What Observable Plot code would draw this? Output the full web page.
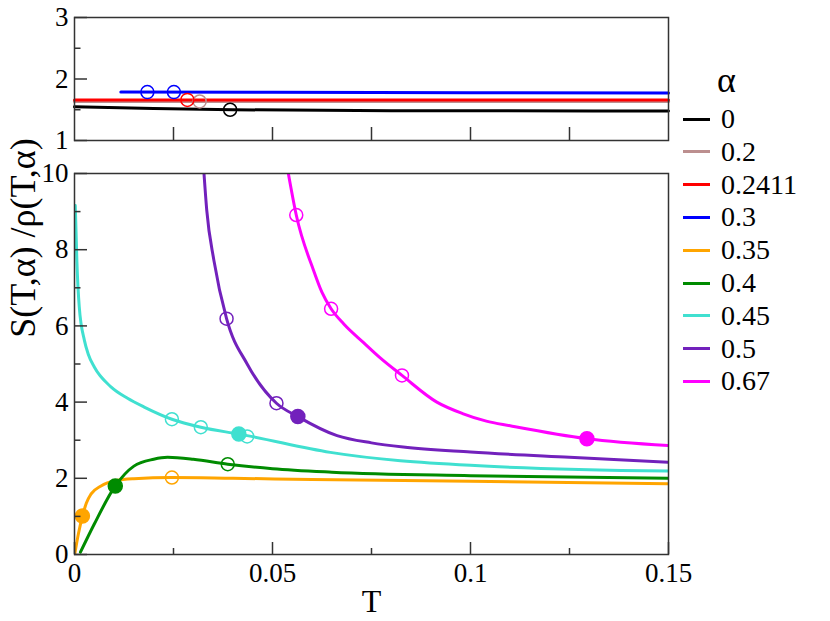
<!DOCTYPE html>
<html><head><meta charset="utf-8">
<script src="https://cdn.jsdelivr.net/npm/d3@7"></script>
<script src="https://cdn.jsdelivr.net/npm/@observablehq/plot@0.6"></script>
<style>
body{margin:0;background:#fff;}
#fig{position:relative;width:830px;height:621px;font-family:"Liberation Serif","Times New Roman","DejaVu Serif",serif;overflow:hidden;background:#fff;}
#top,#bottom{position:absolute;left:0;}
#top{top:0px} #bottom{top:140px}
#ylabel{position:absolute;left:23px;top:238px;transform:translate(-50%,-50%) rotate(-90deg);font-size:36px;line-height:36px;white-space:nowrap;color:#000;}
#legend{position:absolute;left:0;top:0;}
.lg-line{position:absolute;height:3px;width:27px;}
.lg-text{position:absolute;font-size:28px;line-height:28px;white-space:nowrap;color:#000;}
</style></head><body>
<div id="fig"><div id="top"></div><div id="bottom"></div><div id="ylabel">S(T,α) /ρ(T,α)</div><div id="legend"></div></div>
<script>
// ---------- data ----------
const alphas = ["0","0.2","0.2411","0.3","0.35","0.4","0.45","0.5","0.67"];
const colors = ["#000000","#bc8f8f","#ff0000","#0000ff","#ffa500","#008b00","#40e0d0","#7221bc","#ff00ff"];

// top panel (alpha = 0, 0.2, 0.2411, 0.3)
const T_0    = [0, 0.02, 0.04, 0.08, 0.15];
const S_0    = [1.547, 1.52, 1.50, 1.485, 1.48];
const T_02   = [0, 0.15];
const S_02   = [1.635, 1.635];
const T_0241 = [0, 0.15];
const S_0241 = [1.66, 1.66];
const T_03   = [0.0117, 0.05, 0.1, 0.15];
const S_03   = [1.787, 1.785, 1.775, 1.772];

const topOpenT     = [0.0393, 0.0316, 0.0285, 0.0184, 0.0251];
const topOpenS     = [1.50, 1.635, 1.66, 1.787, 1.787];
const topOpenAlpha = ["0", "0.2", "0.2411", "0.3", "0.3"];

// bottom panel (alpha = 0.35 ... 0.67)
const T_035 = [0.0001, 0.001, 0.002, 0.003, 0.0042, 0.0067, 0.0105, 0.015, 0.0246, 0.04, 0.06, 0.1, 0.15];
const S_035 = [0.03, 0.55, 1.0, 1.35, 1.59, 1.8, 1.94, 1.99, 2.02, 2.0, 1.97, 1.92, 1.86];
const T_04  = [0.0015, 0.005, 0.0103, 0.015, 0.02, 0.0235, 0.03, 0.0387, 0.05, 0.065, 0.1, 0.15];
const S_04  = [0.06, 0.8, 1.8, 2.32, 2.5, 2.55, 2.5, 2.37, 2.25, 2.16, 2.07, 2.0];
const T_045 = [0.0002, 0.0006, 0.0012, 0.0025, 0.0035, 0.005, 0.0092, 0.0134, 0.0176, 0.0246, 0.0319, 0.0415, 0.0436, 0.0646, 0.1, 0.15];
const S_045 = [9.16, 7.7, 6.5, 5.62, 5.25, 4.92, 4.4, 4.1, 3.87, 3.55, 3.34, 3.16, 3.12, 2.68, 2.34, 2.19];
const T_05  = [0.0327, 0.0334, 0.0352, 0.0384, 0.0436, 0.051, 0.0564, 0.0663, 0.075, 0.083, 0.1, 0.125, 0.15];
const S_05  = [10, 9.03, 7.72, 6.19, 5.0, 3.97, 3.62, 3.12, 2.93, 2.82, 2.69, 2.55, 2.42];
const T_067 = [0.054, 0.056, 0.0604, 0.0625, 0.0648, 0.068, 0.073, 0.0772, 0.0827, 0.0915, 0.098, 0.104, 0.11, 0.1294, 0.15];
const S_067 = [10, 8.91, 7.45, 6.88, 6.45, 6.05, 5.56, 5.16, 4.70, 4.0, 3.70, 3.50, 3.38, 3.04, 2.86];

const openT     = [0.0246, 0.0387, 0.0246, 0.0319, 0.0436, 0.0384, 0.051, 0.056, 0.0648, 0.0827];
const openS     = [2.02, 2.37, 3.55, 3.34, 3.10, 6.19, 3.97, 8.91, 6.45, 4.70];
const openAlpha = ["0.35", "0.4", "0.45", "0.45", "0.45", "0.5", "0.5", "0.67", "0.67", "0.67"];
const fillT     = [0.002, 0.0103, 0.0415, 0.0564, 0.1294];
const fillS     = [1.01, 1.8, 3.16, 3.62, 3.04];
const fillAlpha = ["0.35", "0.4", "0.45", "0.5", "0.67"];

// tick values
const xMajor = [0, 0.05, 0.1, 0.15];
const xMinor = [0.025, 0.075, 0.125];
const xTopTicks = [0.025, 0.05, 0.075, 0.1, 0.125];
const yTopMajor = [1, 2, 3];
const yTopMinor = [1.5, 2.5];
const yMajor = [0, 2, 4, 6, 8, 10];
const yMinor = [1, 3, 5, 7, 9];

// ---------- build tables ----------
const series = (alpha, T, S) => T.map((t, i) => ({alpha, T: t, S: S[i]}));
const pts = (T, S, A) => T.map((t, i) => ({alpha: A[i], T: t, S: S[i]}));

const topLines = [
  ...series("0", T_0, S_0),
  ...series("0.2", T_02, S_02),
  ...series("0.2411", T_0241, S_0241),
  ...series("0.3", T_03, S_03)
];
const botLines = [
  ...series("0.35", T_035, S_035),
  ...series("0.4", T_04, S_04),
  ...series("0.45", T_045, S_045),
  ...series("0.5", T_05, S_05),
  ...series("0.67", T_067, S_067)
];
const topOpen = pts(topOpenT, topOpenS, topOpenAlpha);
const botOpen = pts(openT, openS, openAlpha);
const botFill = pts(fillT, fillS, fillAlpha);

// ---------- layout ----------
const W = 830, ML = 74, MR = 162;
const FW = W - ML - MR;
const axisColor = "#333";
const font = "'Liberation Serif','Times New Roman','DejaVu Serif',serif";

const topH = 160, topMT = 17, topMB = 20;
const topFH = topH - topMT - topMB;
const botH = 481, botMT = 33, botMB = 67;
const botFH = botH - botMT - botMB;

const colorScale = {domain: alphas, range: colors};

const topPlot = Plot.plot({
  width: W, height: topH,
  marginLeft: ML, marginRight: MR, marginTop: topMT, marginBottom: topMB,
  x: {domain: [0, 0.15]},
  y: {domain: [1, 3]},
  color: colorScale,
  style: {fontFamily: font, background: "transparent", color: "#000"},
  marks: [
    Plot.line(topLines, {x: "T", y: "S", z: "alpha", stroke: "alpha", strokeWidth: 3, curve: "monotone-x"}),
    Plot.dot(topOpen, {x: "T", y: "S", stroke: "alpha", r: 6.5, strokeWidth: 1.5}),
    Plot.frame({stroke: axisColor, strokeWidth: 1.5}),
    Plot.tickX(xTopTicks, {x: d => d, insetTop: topFH - 13, stroke: axisColor, strokeWidth: 1.5}),
    Plot.tickY(yTopMajor, {y: d => d, insetRight: FW - 13, stroke: axisColor, strokeWidth: 1.5}),
    Plot.tickY(yTopMinor, {y: d => d, insetRight: FW - 6.5, stroke: axisColor, strokeWidth: 1.5}),
    Plot.axisY({ticks: yTopMajor, tickSize: 0, tickPadding: 6, fontSize: 27, label: null, tickFormat: d => String(d)}),
    Plot.axisX({ticks: [], tickSize: 0, label: null})
  ]
});
document.getElementById("top").appendChild(topPlot);

const botPlot = Plot.plot({
  width: W, height: botH,
  marginLeft: ML, marginRight: MR, marginTop: botMT, marginBottom: botMB,
  x: {domain: [0, 0.15]},
  y: {domain: [0, 10]},
  color: colorScale,
  style: {fontFamily: font, background: "transparent", color: "#000"},
  marks: [
    Plot.line(botLines, {x: "T", y: "S", z: "alpha", stroke: "alpha", strokeWidth: 3, curve: "monotone-x", clip: true}),
    Plot.dot(botOpen, {x: "T", y: "S", stroke: "alpha", r: 6.5, strokeWidth: 1.5}),
    Plot.dot(botFill, {x: "T", y: "S", fill: "alpha", stroke: "alpha", r: 7}),
    Plot.frame({stroke: axisColor, strokeWidth: 1.5}),
    Plot.tickX(xMajor, {x: d => d, insetTop: botFH - 12, stroke: axisColor, strokeWidth: 1.5}),
    Plot.tickX(xMinor, {x: d => d, insetTop: botFH - 6, stroke: axisColor, strokeWidth: 1.5}),
    Plot.tickY(yMajor, {y: d => d, insetRight: FW - 13, stroke: axisColor, strokeWidth: 1.5}),
    Plot.tickY(yMinor, {y: d => d, insetRight: FW - 6.5, stroke: axisColor, strokeWidth: 1.5}),
    Plot.axisY({ticks: yMajor, tickSize: 0, tickPadding: 6, fontSize: 27, label: null, tickFormat: d => String(d)}),
    Plot.axisX({ticks: xMajor, tickSize: 0, tickPadding: 8, fontSize: 27, label: null, tickFormat: d => String(d)}),
    Plot.text(["T"], {frameAnchor: "bottom", dy: 35, lineAnchor: "top", fontSize: 32, fill: "#000"})
  ]
});
document.getElementById("bottom").appendChild(botPlot);

// ---------- legend ----------
const legend = document.getElementById("legend");
const title = document.createElement("div");
title.className = "lg-text";
title.style.cssText = "left:717px;top:64px;font-size:36px;line-height:32px;";
title.textContent = "α";
legend.appendChild(title);
alphas.forEach((a, i) => {
  const cy = 119 + 32.8 * i;
  const ln = document.createElement("div");
  ln.className = "lg-line";
  ln.style.cssText = `left:683px;top:${cy - 1.5}px;background:${colors[i]};`;
  legend.appendChild(ln);
  const tx = document.createElement("div");
  tx.className = "lg-text";
  tx.style.cssText = `left:721px;top:${cy - 14}px;`;
  tx.textContent = a;
  legend.appendChild(tx);
});
</script>
</body></html>
